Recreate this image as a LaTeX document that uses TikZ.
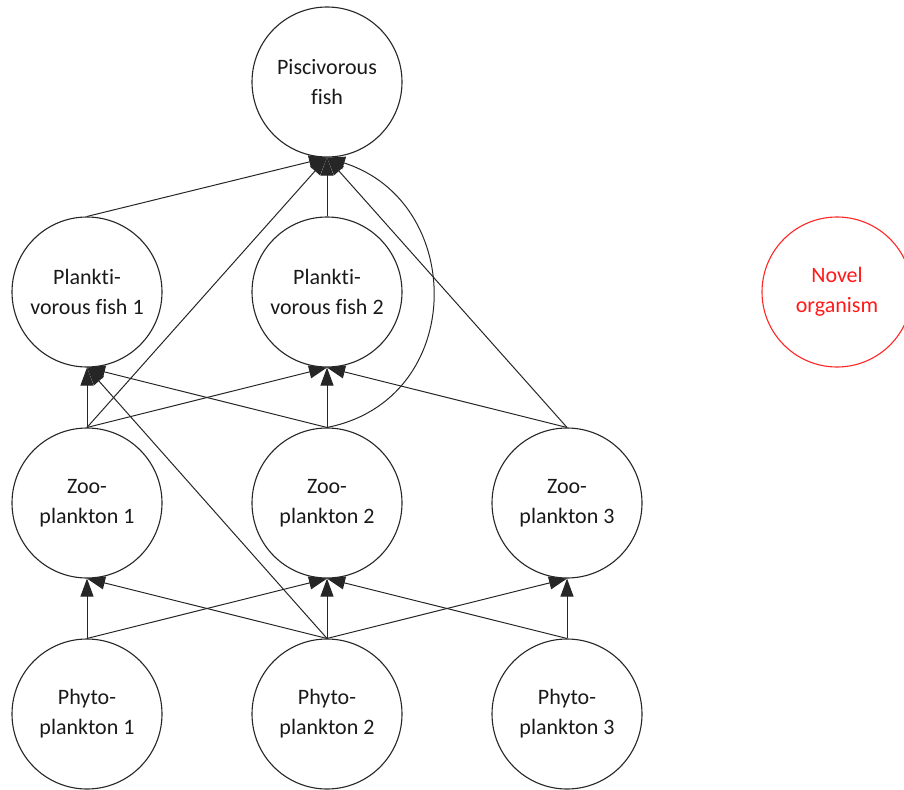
\documentclass[tikz,border=0pt]{standalone}
\usepackage{fontspec}
\setmainfont{Carlito}[Ligatures=NoCommon]
\usetikzlibrary{arrows.meta}
\tikzset{
  organism/.style={circle, draw=black!85, line width=1.1pt, minimum size=150pt,
    inner sep=0pt, align=center, font=\fontsize{22}{30}\selectfont, text=black!90},
  novel/.style={organism, draw=red!85, text=red!90},
  feeds/.style={draw=black!85, line width=1pt,
    -{Triangle[length=18pt,width=13pt]}}
}
\begin{document}
\begin{tikzpicture}[x=1pt,y=-1pt]
\useasboundingbox (0,0) rectangle (904,789);
% organisms
\node[organism] (pisc) at (327,82)  {Piscivorous\\fish};
\node[organism] (pla1) at (87,292)  {Plankt\kern0pt i-\\vorous fish 1};
\node[organism] (pla2) at (327,292) {Plankt\kern0pt i-\\vorous fish 2};
\node[novel]    (nov)  at (837,292) {Novel\\organism};
\node[organism] (zoo1) at (87,503)  {Zoo-\\plankton 1};
\node[organism] (zoo2) at (327,503) {Zoo-\\plankton 2};
\node[organism] (zoo3) at (567,503) {Zoo-\\plankton 3};
\node[organism] (phy1) at (87,714)  {Phyto-\\plankton 1};
\node[organism] (phy2) at (327,714) {Phyto-\\plankton 2};
\node[organism] (phy3) at (567,714) {Phyto-\\plankton 3};
% who eats whom
\draw[feeds] (phy1.north) -- (zoo1.south);
\draw[feeds] (phy1.north) -- (zoo2.south);
\draw[feeds] (phy2.north) -- (zoo1.south);
\draw[feeds] (phy2.north) -- (zoo2.south);
\draw[feeds] (phy2.north) -- (zoo3.south);
\draw[feeds] (phy2.north) -- (pla1.south);
\draw[feeds] (phy3.north) -- (zoo2.south);
\draw[feeds] (phy3.north) -- (zoo3.south);
\draw[feeds] (zoo1.north) -- (pla1.south);
\draw[feeds] (zoo1.north) -- (pla2.south);
\draw[feeds] (zoo1.north) -- (pisc.south);
\draw[feeds] (zoo2.north) -- (pla1.south);
\draw[feeds] (zoo2.north) -- (pla2.south);
\draw[feeds] (zoo2.north) .. controls (467,400) and (467,202) .. (pisc.south);
\draw[feeds] (zoo3.north) -- (pla2.south);
\draw[feeds] (zoo3.north) -- (pisc.south);
\draw[feeds] (pla1.north) -- (pisc.south);
\draw[feeds] (pla2.north) -- (pisc.south);
\end{tikzpicture}
\end{document}
